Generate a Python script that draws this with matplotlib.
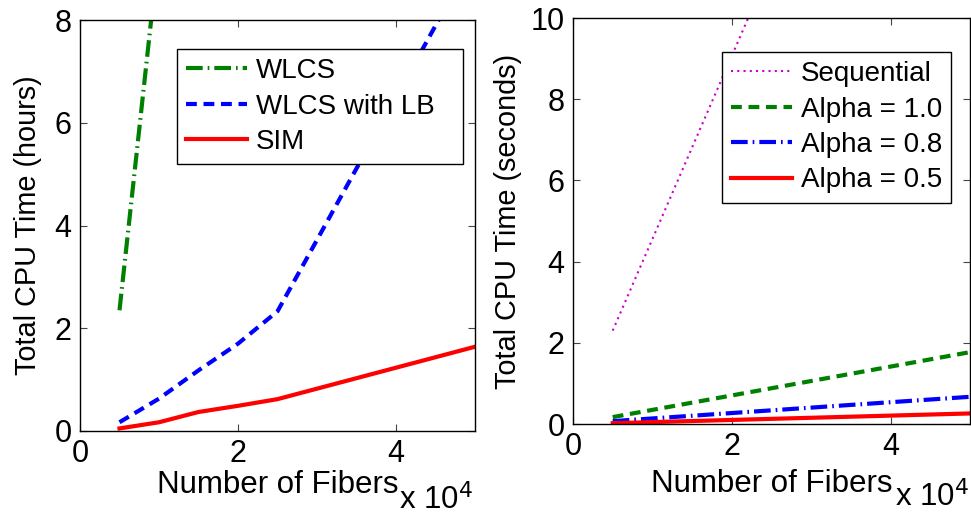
import matplotlib
matplotlib.use("Agg")
import matplotlib.pyplot as plt

plt.rcParams['font.family'] = ['Liberation Sans', 'DejaVu Sans']

# Left panel: total CPU time in hours
fibers_left = [5000, 10000, 15000, 20000, 25000, 50000]
wlcs_x = [5000, 10000]
wlcs_hours = [2.35, 9.4]
wlcs_lb_hours = [0.17, 0.63, 1.18, 1.70, 2.33, 9.28]
sim_hours = [0.05, 0.17, 0.37, 0.49, 0.62, 1.64]

# Right panel: total CPU time in seconds
fibers_right = [5000, 50000]
sequential_sec = [2.3, 22.6]
alpha10_sec = [0.17, 1.77]
alpha08_sec = [0.07, 0.67]
alpha05_sec = [0.02, 0.26]

xticks = [0, 20000, 40000]
xtick_labels = ['0', '2', '4']
yticks_left = [0, 2, 4, 6, 8]
yticks_right = [0, 2, 4, 6, 8, 10]

TICK_FS = 22
XLAB_FS = 22.5
YLAB_FS = 20.8
LEG_FS = 20
W, H = 971, 518
fig = plt.figure(figsize=(W / 100, H / 100), dpi=100)

ax1 = fig.add_axes([80 / W, 1 - 431 / H, 395 / W, 411 / H])
ax2 = fig.add_axes([573 / W, 1 - 424 / H, 397 / W, 406 / H])

dashdot = (0, (4, 1.2, 0.4, 1.2))
dashed = (0, (2.6, 1.6))

ax1.plot(wlcs_x, wlcs_hours, color='#008000', lw=3, linestyle=dashdot, label='WLCS')
ax1.plot(fibers_left, wlcs_lb_hours, color='#0000ff', lw=3, linestyle=dashed, label='WLCS with LB')
ax1.plot(fibers_left, sim_hours, color='#ff0000', lw=3, linestyle='-', label='SIM')
ax1.set_ylim(0, 8)
ax1.set_yticks(yticks_left)
ax1.set_ylabel('Total CPU Time (hours)', fontsize=YLAB_FS)

ax2.plot(fibers_right, sequential_sec, color='#cc00cc', lw=1.5, linestyle=(0, (1, 2)), label='Sequential')
ax2.plot(fibers_right, alpha10_sec, color='#008000', lw=3, linestyle=dashed, label='Alpha = 1.0')
ax2.plot(fibers_right, alpha08_sec, color='#0000ff', lw=3, linestyle=dashdot, label='Alpha = 0.8')
ax2.plot(fibers_right, alpha05_sec, color='#ff0000', lw=3, linestyle='-', label='Alpha = 0.5')
ax2.set_ylim(0, 10)
ax2.set_yticks(yticks_right)
ax2.set_ylabel('Total CPU Time (seconds)', fontsize=YLAB_FS)

for ax in (ax1, ax2):
    ax.set_xlim(0, 50000)
    ax.set_xticks(xticks)
    ax.set_xticklabels(xtick_labels)
    ax.tick_params(direction='in', length=5, width=0.8, labelsize=TICK_FS,
                   top=True, right=True, pad=6, color='#444444')
    for s in ax.spines.values():
        s.set_linewidth(1.0)
        s.set_color('black')
    ax.set_xlabel('Number of Fibers', fontsize=XLAB_FS)
    ax.xaxis.label.set_va('baseline')

# label placement (axes fractions)
ax1.xaxis.set_label_coords(0.5, -0.151)
ax2.xaxis.set_label_coords(0.5, -0.1675)
ax1.yaxis.set_label_coords(-0.096, 0.5)
ax2.yaxis.set_label_coords(-0.128, 0.5)

# exponent of the x axis
fig.text(473 / W, 1 - 509 / H, r'x 10$^4$', fontsize=XLAB_FS, ha='right', va='baseline')
fig.text(969 / W, 1 - 506 / H, r'x 10$^4$', fontsize=XLAB_FS, ha='right', va='baseline')

leg_kw = dict(fontsize=LEG_FS, fancybox=False, framealpha=1, edgecolor='black',
              handlelength=2.2, handletextpad=0.3, labelspacing=0.34,
              borderpad=0.33, borderaxespad=0)
l1 = ax1.legend(loc='upper left', mode='expand',
                bbox_to_anchor=((177 - 80) / 395, (431 - 49) / 411, (463 - 177) / 395, 0),
                **leg_kw)
l2 = ax2.legend(loc='upper right', bbox_to_anchor=((951 - 573) / 397, (424 - 52) / 406), **leg_kw)
for l in (l1, l2):
    l.get_frame().set_linewidth(1.0)

fig.savefig('out.png', dpi=100)
